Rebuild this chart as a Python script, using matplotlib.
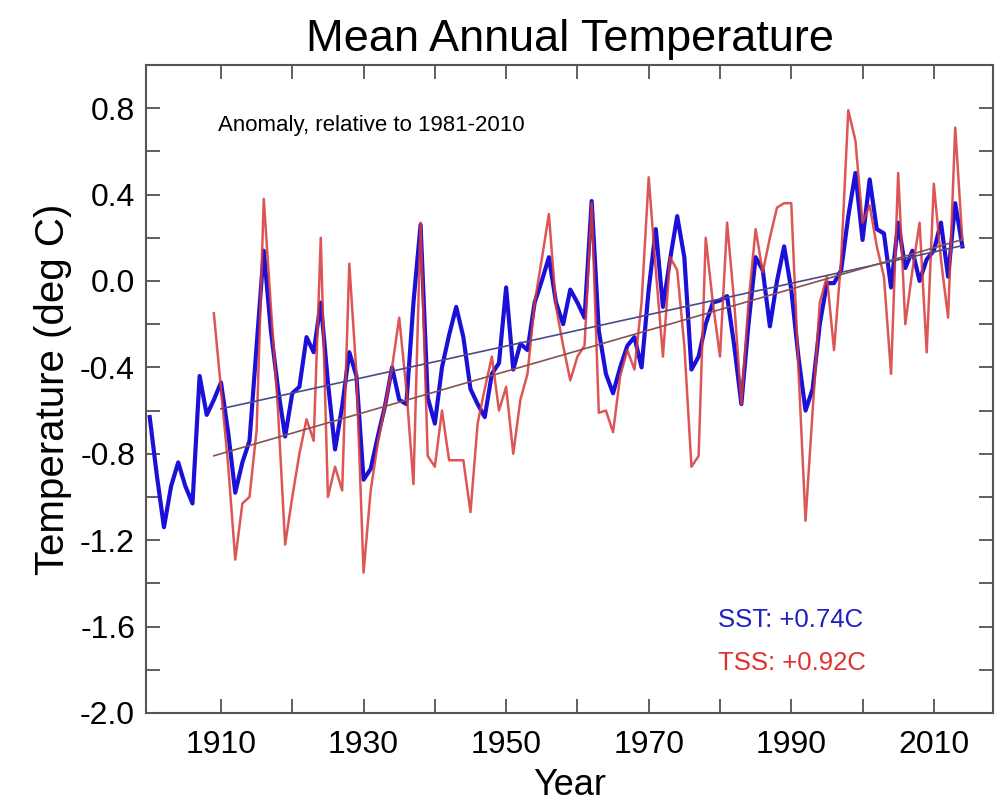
import matplotlib
matplotlib.use('Agg')
import matplotlib.pyplot as plt
import numpy as np

plt.rcParams['font.family'] = ['Liberation Sans', 'DejaVu Sans']

sst_years = list(range(1900, 2015))
sst = [-0.63, -0.90, -1.14, -0.95, -0.84, -0.95, -1.03, -0.44, -0.62, -0.55,
       -0.47, -0.70, -0.98, -0.84, -0.74, -0.30, 0.14, -0.23, -0.50, -0.72,
       -0.52, -0.49, -0.26, -0.33, -0.10, -0.47, -0.78, -0.58, -0.33, -0.44,
       -0.92, -0.87, -0.72, -0.58, -0.40, -0.55, -0.57, -0.10, 0.26, -0.54,
       -0.66, -0.40, -0.25, -0.12, -0.26, -0.50, -0.57, -0.63, -0.43, -0.38,
       -0.03, -0.41, -0.29, -0.32, -0.10, 0.00, 0.11, -0.10, -0.20, -0.04,
       -0.10, -0.17, 0.37, -0.23, -0.43, -0.52, -0.40, -0.30, -0.26, -0.40,
       -0.04, 0.24, -0.12, 0.10, 0.30, 0.11, -0.41, -0.35, -0.20, -0.10,
       -0.09, -0.07, -0.30, -0.57, -0.20, 0.11, 0.05, -0.21, 0.00, 0.16,
       -0.04, -0.35, -0.60, -0.50, -0.20, -0.01, -0.01, 0.05, 0.30, 0.50,
       0.19, 0.47, 0.24, 0.22, -0.03, 0.27, 0.06, 0.14, 0.00, 0.10,
       0.14, 0.27, 0.02, 0.36, 0.16]

tss_years = list(range(1909, 2015))
tss = [-0.15,
       -0.50, -0.85, -1.29, -1.03, -1.00, -0.69, 0.38, -0.12, -0.60, -1.22,
       -1.00, -0.80, -0.64, -0.74, 0.20, -1.00, -0.86, -0.97, 0.08, -0.43,
       -1.35, -0.97, -0.75, -0.58, -0.40, -0.17, -0.50, -0.94, 0.27, -0.81,
       -0.86, -0.60, -0.83, -0.83, -0.83, -1.07, -0.66, -0.50, -0.35, -0.60,
       -0.49, -0.80, -0.55, -0.43, -0.10, 0.10, 0.31, -0.12, -0.30, -0.46,
       -0.35, -0.30, 0.36, -0.61, -0.60, -0.70, -0.44, -0.32, -0.41, -0.10,
       0.48, 0.05, -0.35, 0.11, 0.05, -0.30, -0.86, -0.81, 0.20, -0.10,
       -0.35, 0.27, -0.10, -0.57, -0.10, 0.24, 0.04, 0.20, 0.34, 0.36,
       0.36, -0.40, -1.11, -0.60, -0.10, 0.02, -0.32, 0.10, 0.79, 0.65,
       0.27, 0.35, 0.16, 0.02, -0.43, 0.50, -0.20, 0.05, 0.27, -0.33,
       0.45, 0.10, -0.17, 0.71, 0.19]

sst_x = np.array(sst_years)
sst_y = np.array(sst)
tss_x = np.array(tss_years)
tss_y = np.array(tss)

# linear trends over the common period
m = sst_x >= 1910
p_sst = np.polyfit(sst_x[m], sst_y[m], 1)
p_tss = np.polyfit(tss_x, tss_y, 1)

fig = plt.figure(figsize=(10.01, 8.02), dpi=100)
ax = fig.add_axes([0.146, 0.111, 0.846, 0.808])

ax.plot(sst_x, sst_y, color='#1a10d8', lw=3.0, zorder=3)
ax.plot(tss_x, tss_y, color='#d83838', lw=1.8, alpha=0.85, zorder=4)
ax.plot(sst_x[m], np.polyval(p_sst, sst_x[m]), color='#4a4a8a', lw=1.2, zorder=5)
ax.plot(tss_x, np.polyval(p_tss, tss_x), color='#8a5050', lw=1.2, zorder=5)

ax.set_xlim(1899.5, 2018.3)
ax.set_ylim(-2.0, 1.0)
ax.set_xticks(np.arange(1910, 2011, 20))
ax.set_xticks(np.arange(1910, 2011, 10), minor=True)
yt = np.round(np.arange(-2.0, 0.81, 0.4), 1)
ax.set_yticks(yt)
ax.set_yticks(np.arange(-2.0, 1.01, 0.2), minor=True)
ax.set_yticklabels(['%.1f' % (v + 0.0) for v in yt])
ax.tick_params(which='both', direction='in', top=True, right=True,
               length=10, width=1.2, color='#444444', labelsize=23)
ax.tick_params(axis='x', pad=12)
ax.tick_params(axis='y', pad=8)
for s in ax.spines.values():
    s.set_color('#555555')
    s.set_linewidth(1.5)

ax.set_xlabel('Year', fontsize=26, labelpad=6)
ax.set_ylabel('Temperature (deg C)', fontsize=29, labelpad=6)
ax.set_title('Mean Annual Temperature', fontsize=32.5, pad=10)

ax.text(0.085, 0.907, 'Anomaly, relative to 1981-2010', transform=ax.transAxes,
        fontsize=16, va='center', ha='left')
ax.text(0.675, 0.1435, 'SST: +0.74C', transform=ax.transAxes, color='#2020c0',
        fontsize=18.5, va='center', ha='left')
ax.text(0.675, 0.077, 'TSS: +0.92C', transform=ax.transAxes, color='#e03030',
        fontsize=18.5, va='center', ha='left')

fig.savefig('out.png', dpi=100)
